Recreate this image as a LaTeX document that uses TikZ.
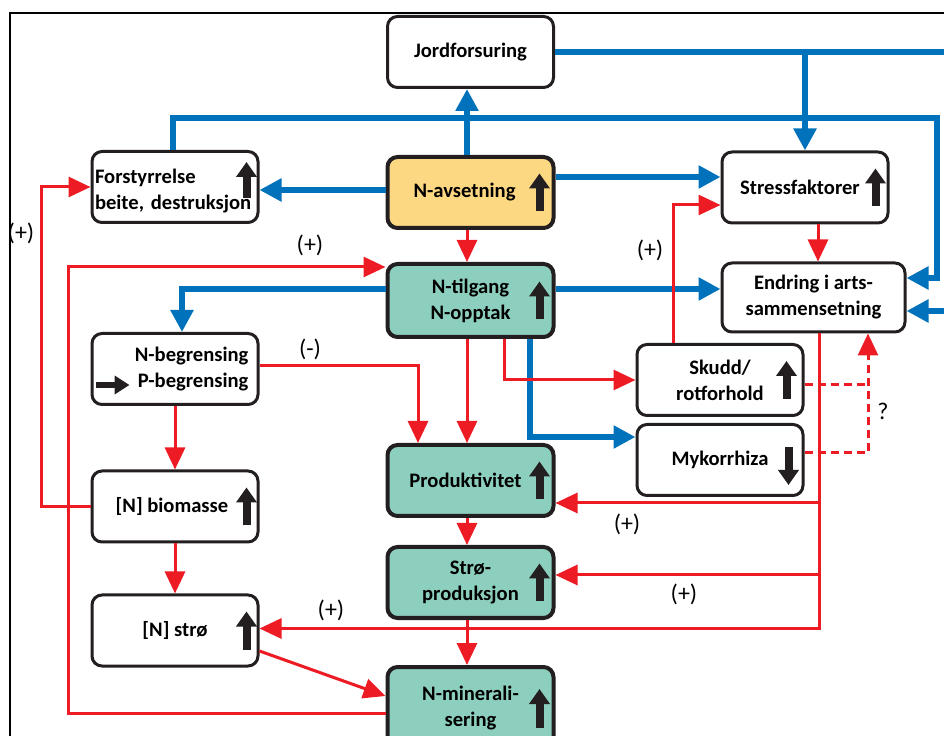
\documentclass[tikz,border=0pt]{standalone}
\usepackage{fontspec}
\setmainfont{Carlito}
\usetikzlibrary{arrows.meta}

\definecolor{nblue}{RGB}{0,114,188}
\definecolor{nred}{RGB}{237,28,36}
\definecolor{nyellow}{RGB}{253,216,130}
\definecolor{ngreen}{RGB}{141,207,190}
\definecolor{boxline}{RGB}{35,31,32}

\begin{document}
\begin{tikzpicture}[x=0.5pt,y=0.5pt,
    box/.style={shape=rectangle, rounded corners=5pt, draw=boxline, line width=1.5pt, fill=white,
        minimum width=83pt, minimum height=35.5pt, align=center, font=\fontsize{10.3}{13}\selectfont\bfseries\frenchspacing},
    keybox/.style={box, line width=2pt, fill=ngreen},
    bl/.style={draw=nblue, line width=3pt},
    blarr/.style={bl, -{Triangle[width=11pt,length=11pt]}},
    rd/.style={draw=nred, line width=1.5pt},
    rdarr/.style={rd, -{Triangle[width=10pt,length=11pt]}},
    rddash/.style={rd, dash pattern=on 4pt off 2.5pt},
    trend/.style={draw=boxline, line width=4pt, -{Triangle[width=10pt,length=7.5pt]}},
    sign/.style={font=\fontsize{12}{14}\selectfont}]
    \useasboundingbox (0,0) rectangle (944,735);
    \draw[line width=0.6pt] (10,-5) -- (10,722) -- (950,722);

    \node[box] at (470.5,683) (jord) {Jordforsuring};
    \node[box, align=left, text width=80pt, inner xsep=1.5pt] at (175,548) (fst) {\rule{0pt}{11pt}Forstyrrelse\\beite, destruksjon};
    \node[box, fill=nyellow, line width=2pt] at (470.5,542.5) (nav) {N-avsetning\hspace*{6pt}};
    \node[box] at (805,547.5) (stress) {Stressfaktorer\hspace*{5pt}};
    \node[keybox, minimum height=36.5pt] at (470.5,434.5) (ntil) {N-tilgang\\N-opptak};
    \node[box, minimum width=91.5pt, minimum height=34.5pt] at (813.5,437.5) (endr) {Endring i arts-\\sammensetning};
    \node[box, align=right, text width=73.5pt] at (175,366) (nbeg) {N-begrensing\\P-begrensing};
    \node[box] at (720,355) (skudd) {Skudd/\\rotforhold};
    \node[box] at (720,275) (myk) {Mykorrhiza};
    \node[keybox] at (470.5,254.5) (prod) {Produktivitet\hspace*{5pt}};
    \node[box] at (175,228.5) (bio) {[N] biomasse\hspace*{3pt}};
    \node[keybox] at (470.5,152.5) (stro) {Strø-\\produksjon};
    \node[box] at (175,104.5) (nstro) {[N] strø};
    \node[keybox, minimum height=41pt] at (470.5,27) (nmin) {N-minerali-\\sering};

    % trend arrows in the boxes
    \draw[trend] ([xshift=-6.5pt,yshift=-5.5pt]fst.east) -- ([xshift=-6.5pt,yshift=12.5pt]fst.east);
    \draw[trend] ([xshift=-8pt,yshift=-9.5pt]nav.east) -- ([xshift=-8pt,yshift=9.5pt]nav.east);
    \draw[trend] ([xshift=-7pt,yshift=-9.5pt]stress.east) -- ([xshift=-7pt,yshift=9.5pt]stress.east);
    \draw[trend] ([xshift=-8pt,yshift=-9.5pt]ntil.east) -- ([xshift=-8pt,yshift=9.5pt]ntil.east);
    \draw[trend] ([xshift=-9pt,yshift=-9.5pt]skudd.east) -- ([xshift=-9pt,yshift=9.5pt]skudd.east);
    \draw[trend] ([xshift=-8pt,yshift=6.5pt]myk.east) -- ([xshift=-8pt,yshift=-12.5pt]myk.east);
    \draw[trend] ([xshift=-8pt,yshift=-9.5pt]prod.east) -- ([xshift=-8pt,yshift=9.5pt]prod.east);
    \draw[trend] ([xshift=-6.5pt,yshift=-9.5pt]bio.east) -- ([xshift=-6.5pt,yshift=9.5pt]bio.east);
    \draw[trend] ([xshift=-8pt,yshift=-9.5pt]stro.east) -- ([xshift=-8pt,yshift=9.5pt]stro.east);
    \draw[trend] ([xshift=-6.5pt,yshift=-9.5pt]nstro.east) -- ([xshift=-6.5pt,yshift=9.5pt]nstro.east);
    \draw[trend] ([xshift=-8pt,yshift=-10pt]nmin.east) -- ([xshift=-8pt,yshift=9.5pt]nmin.east);
    \draw[trend, line width=3.25pt, -{Triangle[width=9pt,length=7.5pt]}] ([xshift=2.5pt,yshift=-8pt]nbeg.west) -- ([xshift=19.5pt,yshift=-8pt]nbeg.west);

    % blue links
    \coordinate (jr) at (950,683);
    \coordinate (tl) at (937,617);
    \coordinate (er) at (950,424);
    \draw[bl] (jord.east) -- (jr);
    \draw[blarr] (jord.east -| stress.north) -- (stress.north);
    \draw[blarr] ([xshift=-1pt]fst.north) |- (tl) |- ([yshift=9.75pt]endr.east);
    \draw[blarr] ([xshift=-1.75pt]nav.north) -- ([xshift=-1.75pt]jord.south);
    \draw[blarr] ([yshift=1.25pt]nav.west) -- ([yshift=1.25pt]nav.west -| fst.east);
    \draw[blarr] ([yshift=7.75pt]nav.east) -- ([yshift=7.75pt]nav.east -| stress.west);
    \draw[blarr] (er) -- (er -| endr.east);
    \draw[blarr] ([yshift=5.75pt]ntil.east) -- ([yshift=5.75pt]ntil.east -| endr.west);
    \draw[blarr] ([yshift=5.75pt]ntil.west) -| ([xshift=3.5pt]nbeg.north);
    \draw[blarr] ([xshift=29.75pt]ntil.south) |- ([yshift=11.5pt]myk.west);

    % red links
    \coordinate (lx) at (41,0);
    \coordinate (bx) at (68,0);
    \coordinate (ex) at (819,0);
    \coordinate (dq) at (868,0);
    \coordinate (ntw) at ([yshift=16.75pt]ntil.west);
    \draw[rdarr] ([xshift=-1.75pt]nav.south) -- ([xshift=-1.75pt]ntil.north);
    \draw[rdarr] ([xshift=6.5pt]stress.south) -- ([xshift=6.5pt]stress.south |- endr.north);
    \draw[rdarr] ([xshift=-23.5pt]skudd.north) |- ([yshift=-8.75pt]stress.west);
    \draw[rdarr] ([xshift=16.75pt]ntil.south) |- (skudd.west);
    \draw[rdarr] ([xshift=-1.75pt]ntil.south) -- ([xshift=-1.75pt]prod.north);
    \draw[rdarr] ([yshift=1.5pt]nbeg.east) -| ([xshift=-26.25pt]prod.north);
    \draw[rdarr] (nbeg.south) -- (bio.north);
    \draw[rdarr] (bio.south) -- (nstro.north);
    \draw[rdarr] (bio.west) -| (lx |- fst.west) -- (fst.west);
    \draw[rdarr] ([yshift=-2.5pt]nmin.west) -| (bx |- ntw) -- (ntw);
    \draw[rdarr] ([xshift=-1.75pt]prod.south) -- ([xshift=-1.75pt]stro.north);
    \draw[rdarr] ([xshift=-1.75pt]stro.south) -- ([xshift=-1.75pt]nmin.north);
    \draw[rdarr] ([yshift=-10.25pt]nstro.east) -- ([yshift=6pt]nmin.west);
    \draw[rdarr] ([xshift=2.75pt]endr.south) |- ([yshift=1pt]nstro.east);
    \draw[rdarr] ([yshift=-11.25pt]prod.east -| ex) -- ([yshift=-11.25pt]prod.east);
    \draw[rdarr] ([yshift=3.75pt]stro.east -| ex) -- ([yshift=3.75pt]stro.east);
    \draw[rddash] ([yshift=-2.5pt]skudd.east) -- ([yshift=-2.5pt]skudd.east -| dq);
    \draw[rddash, -{Triangle[width=10pt,length=11pt]}] ([yshift=3.5pt]myk.east) -| (dq |- endr.south);

    % signs
    \node[sign] at (21,502) (s1) {(+)};
    \node[sign] at (310,490) (s2) {(+)};
    \node[sign] at (310,386) (s3) {(-)};
    \node[sign] at (650,485) (s4) {(+)};
    \node[sign] at (627,211) (s5) {(+)};
    \node[sign] at (684,141) (s6) {(+)};
    \node[sign] at (331,125) (s7) {(+)};
    \node[sign] at (883,324) (s8) {?};
\end{tikzpicture}
\end{document}
